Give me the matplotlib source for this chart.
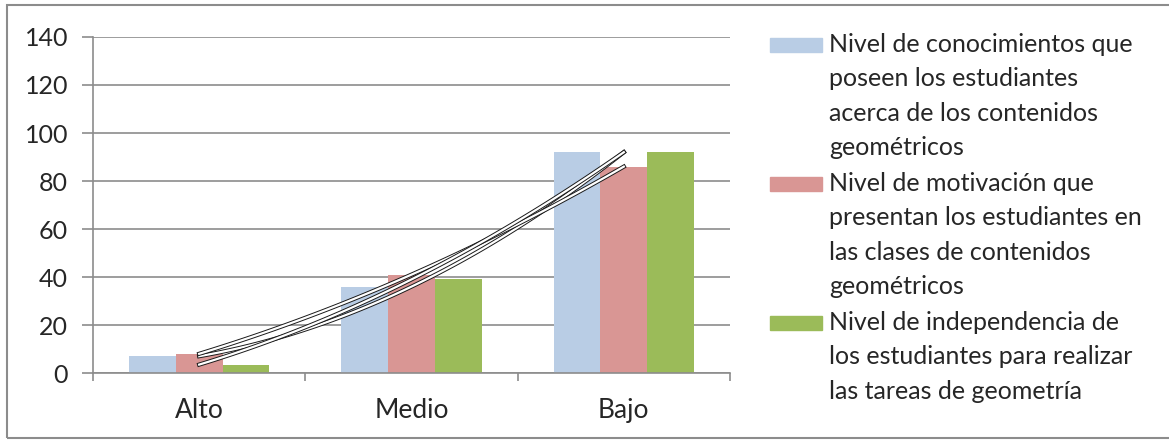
import numpy as np
import matplotlib.pyplot as plt
import matplotlib.patheffects as pe
from matplotlib.patches import Rectangle

plt.rcParams['font.family'] = ['Lato', 'DejaVu Sans']

categorias = ['Alto', 'Medio', 'Bajo']
conocimientos = [7, 36, 92]
motivacion = [8, 41, 86]
independencia = [3.5, 39, 92]
series_labels = ['Nivel de conocimientos que\nposeen los estudiantes\nacerca de los contenidos\ngeométricos',
                 'Nivel de motivación que\npresentan los estudiantes en\nlas clases de contenidos\ngeométricos',
                 'Nivel de independencia de\nlos estudiantes para realizar\nlas tareas de geometría']
colores = ['#B9CDE5', '#D99694', '#9BBB59']
yticks = [0, 20, 40, 60, 80, 100, 120, 140]

W, H = 1169, 440
fig = plt.figure(figsize=(W / 100, H / 100), dpi=100)
ax = fig.add_axes([93 / W, 1 - 373 / H, (730 - 93) / W, (373 - 37) / H])

x = np.arange(1, len(categorias) + 1)
bw = 0.22
datos = [conocimientos, motivacion, independencia]
for i, (vals, col) in enumerate(zip(datos, colores)):
    ax.bar(x + (i - 1) * bw, vals, width=bw, color=col, zorder=2)

# polynomial trendlines (order 2), white line with black outline
xs = np.linspace(1, 3, 100)
for vals in datos:
    p = np.polyfit(x, vals, 2)
    ax.plot(xs, np.polyval(p, xs), color='white', lw=1.6, zorder=3,
            path_effects=[pe.Stroke(linewidth=3.0, foreground='#1a1a1a'), pe.Normal()])

ax.set_xlim(0.5, 3.5)
ax.set_ylim(0, 140)
ax.set_yticks(yticks)
ax.yaxis.grid(True, color='#8c8c8c', lw=1.2, zorder=0)
ax.set_axisbelow(True)
ax.set_xticks(x)
ax.set_xticklabels(categorias)
ax.set_xticks([0.5, 1.5, 2.5, 3.5], minor=True)
ax.tick_params(axis='x', which='major', length=0, pad=18, labelsize=19, colors='#262626')
ax.tick_params(axis='x', which='minor', length=6, width=1.2, color='#8c8c8c')
ax.tick_params(axis='y', length=8, width=1.2, color='#8c8c8c', labelsize=18, labelcolor='#262626', pad=10)
for s in ['top', 'right']:
    ax.spines[s].set_visible(False)
for s in ['left', 'bottom']:
    ax.spines[s].set_color('#8c8c8c')
    ax.spines[s].set_linewidth(1.2)

# legend
tops = [38, 177, 316]
for lab, col, t in zip(series_labels, colores, tops):
    fig.patches.append(Rectangle((770 / W, 1 - (t + 14) / H), 52 / W, 14 / H,
                                 transform=fig.transFigure, color=col))
    fig.text(829 / W, 1 - (t - 5) / H, lab, fontsize=18, color='#262626',
             va='top', ha='left', linespacing=1.6)

# outer frame
fig.patches.append(Rectangle((7 / W, 2 / H), 1.2, 1 - 7 / H, transform=fig.transFigure,
                             fill=False, edgecolor='#8c8c8c', lw=1.5))

fig.savefig('out.png', dpi=100)
